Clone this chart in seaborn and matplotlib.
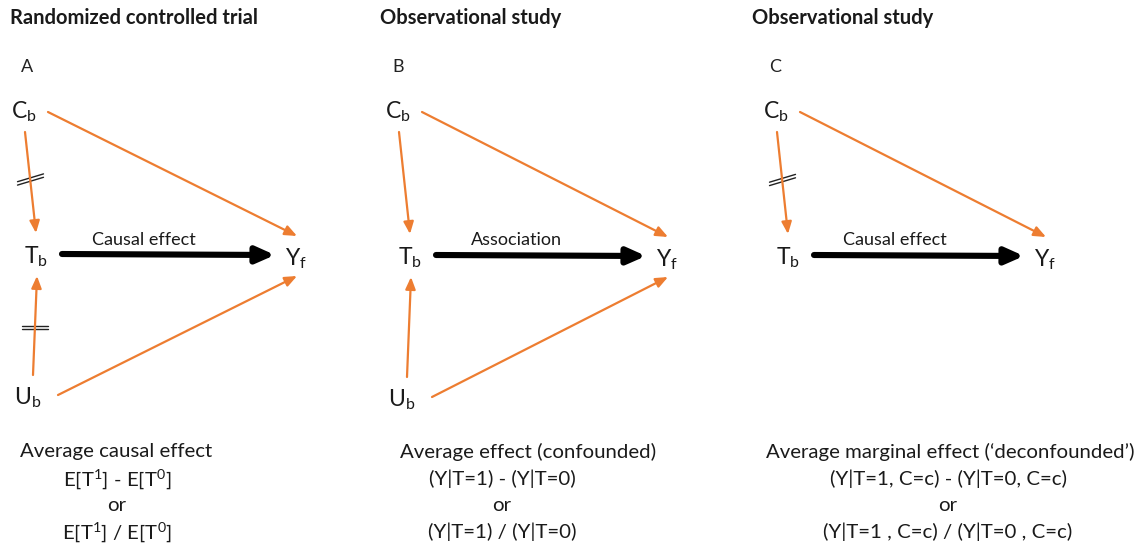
import seaborn as sns
import matplotlib.pyplot as plt

sns.set_theme(style="white")
plt.rcParams["font.family"] = ["Lato", "DejaVu Sans"]
plt.rcParams["mathtext.fontset"] = "custom"
plt.rcParams["mathtext.rm"] = "Lato"
plt.rcParams["mathtext.it"] = "Lato"

ORANGE = "#ED7D31"
INK = "#1a1a1a"

# panel headings
titles = ["Randomized controlled trial", "Observational study", "Observational study"]
title_x = [10, 380, 752]
letters = ["A", "B", "C"]
letter_pos = [(27, 67), (398, 67), (775, 67)]

# node positions per panel (pixel-like coords, y downwards)
nodes = [
    {"C": (24, 112), "T": (36, 257), "U": (28, 398), "Y": (296, 259)},
    {"C": (398, 112), "T": (410, 258), "U": (402, 400), "Y": (667, 260)},
    {"C": (776, 112), "T": (788, 258), "Y": (1045, 260)},
]
node_labels = {"C": r"$\mathrm{C_b}$", "T": r"$\mathrm{T_b}$",
               "U": r"$\mathrm{U_b}$", "Y": r"$\mathrm{Y_f}$"}

# orange edges, and the ones cut by randomisation / adjustment
edges = [
    [("C", "T"), ("U", "T"), ("C", "Y"), ("U", "Y")],
    [("C", "T"), ("U", "T"), ("C", "Y"), ("U", "Y")],
    [("C", "T"), ("C", "Y")],
]
blocked = [[("C", "T"), ("U", "T")], [], [("C", "T")]]
main_labels = ["Causal effect", "Association", "Causal effect"]

# summary text
summary_head = ["Average causal effect", "Average effect (confounded)",
                "Average marginal effect (\u2018deconfounded\u2019)"]
summary_head_x = [20, 400, 766]
summary_lines = [
    [r"E[T$^1$] - E[T$^0$]", "or", r"E[T$^1$] / E[T$^0$]"],
    ["(Y|T=1) - (Y|T=0)", "or", "(Y|T=1) / (Y|T=0)"],
    ["(Y|T=1, C=c) - (Y|T=0, C=c)", "or", "(Y|T=1 , C=c) / (Y|T=0 , C=c)"],
]
summary_cx = [117, 502, 948]

# where arrows leave / enter the node labels (offsets from label centre)
ports = {
    ("C", "T"): ((1, 20), (0, -24)),
    ("U", "T"): ((5, -23), (1, 19)),
    ("C", "Y"): ((24, 0), (1, -23)),
    ("U", "Y"): ((30, -3), (1, 17)),
    ("T", "Y"): ((26, -3), (-21, -4)),
}


def shift(p, d):
    return (p[0] + d[0], p[1] + d[1])


fig = plt.figure(figsize=(11.46, 5.45), dpi=100)
ax = fig.add_axes([0, 0, 1, 1])
ax.set_xlim(0, 1146)
ax.set_ylim(545, 0)
ax.axis("off")

for i in range(3):
    ax.text(title_x[i], 18, titles[i], fontsize=14.5, fontweight="bold",
            ha="left", va="center", color=INK)
    lx, ly = letter_pos[i]
    ax.text(lx, ly, letters[i], fontsize=13, ha="center", va="center", color="#222222")

    pos = nodes[i]
    for k, (x, y) in pos.items():
        ax.text(x, y, node_labels[k], fontsize=16.5, ha="center", va="center", color=INK)

    for a, b in edges[i]:
        s, e = ports[(a, b)]
        p0, p1 = shift(pos[a], s), shift(pos[b], e)
        ax.annotate("", xy=p1, xytext=p0,
                    arrowprops=dict(arrowstyle="-|>,head_length=0.6,head_width=0.25",
                                    color=ORANGE, lw=1.6, shrinkA=0, shrinkB=0))
        if (a, b) in blocked[i]:
            mx, my = (p0[0] + p1[0]) / 2, (p0[1] + p1[1]) / 2 + (-3 if a == "C" else 2)
            slope = -0.3 if a == "C" else 0.0
            for d in (-1.7, 1.7):
                ax.plot([mx - 13, mx + 13],
                        [my + d - 13 * slope, my + d + 13 * slope],
                        color="#222222", lw=1.0)

    # black treatment -> outcome arrow
    s, e = ports[("T", "Y")]
    p0, p1 = shift(pos["T"], s), shift(pos["Y"], e)
    ax.annotate("", xy=p1, xytext=p0,
                arrowprops=dict(arrowstyle="-|>,head_length=0.9,head_width=0.4",
                                color="black", lw=4.4, shrinkA=0, shrinkB=0))
    tx = (pos["T"][0] + pos["Y"][0]) / 2
    ax.text(tx - 22, 240, main_labels[i], fontsize=13, ha="center", va="center",
            color=INK)

    ax.text(summary_head_x[i], 452, summary_head[i], fontsize=14.7, ha="left",
            va="center", color=INK)
    for j, line in enumerate(summary_lines[i]):
        ax.text(summary_cx[i], 479 + 26.5 * j, line, fontsize=14.7, ha="center",
                va="center", color=INK)

fig.savefig("out.png", dpi=100, facecolor="white")
